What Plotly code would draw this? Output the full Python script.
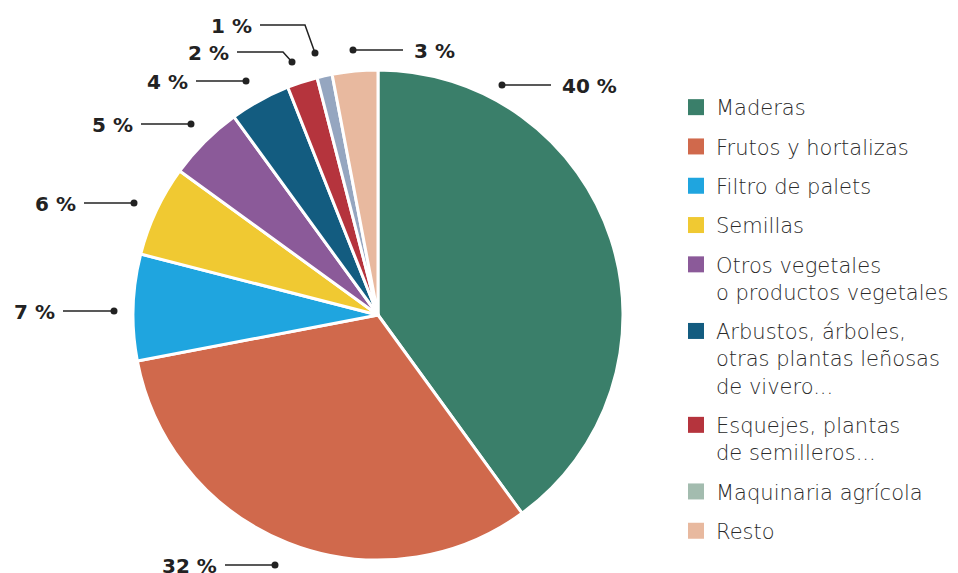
import plotly.graph_objects as go

W, H = 958, 573
OFF = 8  # page body margin: figure starts 8px in from the window corner

# data
categories = [
    "Maderas",
    "Frutos y hortalizas",
    "Filtro de palets",
    "Semillas",
    "Otros vegetales<br>o productos vegetales",
    "Arbustos, árboles,<br>otras plantas leñosas<br>de vivero...",
    "Esquejes, plantas<br>de semilleros...",
    "Maquinaria agrícola",
    "Resto",
]
values = [40, 32, 7, 6, 5, 4, 2, 1, 3]
slice_colors = ["#3a7f6a", "#d0694c", "#1fa5df", "#f0c932", "#8b5a99",
                "#135c80", "#b5343d", "#95a6c0", "#e8b99f"]
legend_colors = ["#3a7f6a", "#d0694c", "#1fa5df", "#f0c932", "#8b5a99",
                 "#135c80", "#b5343d", "#a3bcaf", "#e8b99f"]

# leader line layout in window pixels: polyline from the dot outward, text side
label_paths = [
    ([(502, 85), (551, 85)], "left"),
    ([(275, 565), (225, 565)], "right"),
    ([(114, 311), (63, 311)], "right"),
    ([(134, 203), (84, 203)], "right"),
    ([(191, 124), (141, 124)], "right"),
    ([(246, 81), (196, 81)], "right"),
    ([(292, 62), (283, 52), (237, 52)], "right"),
    ([(315, 53), (305, 25), (260, 25)], "right"),
    ([(353, 50), (403, 50)], "left"),
]


def px(x, y):
    return (x - OFF) / W, 1 - (y - OFF) / H


fig = go.Figure()

x0, y0 = px(133, 560)
x1, y1 = px(623, 70)
fig.add_trace(go.Pie(
    labels=categories,
    values=values,
    sort=False,
    direction="clockwise",
    rotation=0,
    marker=dict(colors=slice_colors, line=dict(color="white", width=3)),
    textinfo="none",
    hoverinfo="label+percent",
    showlegend=False,
    domain=dict(x=[x0, x1], y=[y0, y1]),
))

# legend entries drawn as dummy traces (legend colour differs for one item)
for i, (cat, col) in enumerate(zip(categories, legend_colors)):
    fig.add_trace(go.Scatter(
        x=[None], y=[None], mode="markers", name=cat,
        marker=dict(symbol="square", size=17, color=col),
        legendgroup=f"g{i}", showlegend=True,
    ))

shapes = []
annotations = []
for val, (pts, side) in zip(values, label_paths):
    path = "M " + " L ".join(f"{px(x, y)[0]},{px(x, y)[1]}" for x, y in pts)
    shapes.append(dict(type="path", path=path, xref="paper", yref="paper",
                       line=dict(color="#222222", width=1.5)))
    dx, dy = px(*pts[0])
    shapes.append(dict(type="circle", xref="paper", yref="paper",
                       xsizemode="pixel", ysizemode="pixel",
                       xanchor=dx, yanchor=dy, x0=-3.5, x1=3.5, y0=-3.5, y1=3.5,
                       fillcolor="#222222", line=dict(width=0)))
    ex, ey = pts[-1]
    tx = ex + 9 if side == "left" else ex - 6
    ax_, ay_ = px(tx, ey + 1)
    annotations.append(dict(
        x=ax_, y=ay_, xref="paper", yref="paper", text=f"{val} %",
        showarrow=False, xanchor=side, yanchor="middle",
        font=dict(family="DejaVu Sans", size=20, color="#222222", weight="bold"),
    ))

lx, ly = px(676, 87)
fig.update_layout(
    width=W, height=H,
    margin=dict(l=0, r=0, t=0, b=0),
    paper_bgcolor="white", plot_bgcolor="white",
    xaxis=dict(visible=False), yaxis=dict(visible=False),
    shapes=shapes,
    annotations=annotations,
    legend=dict(
        x=lx, y=ly, xanchor="left", yanchor="top",
        font=dict(family="DejaVu Sans", size=21, color="#2a2a2a", weight=300),
        valign="top", tracegroupgap=9, itemwidth=30,
        bgcolor="rgba(0,0,0,0)",
    ),
)

fig.write_html("out.html")
